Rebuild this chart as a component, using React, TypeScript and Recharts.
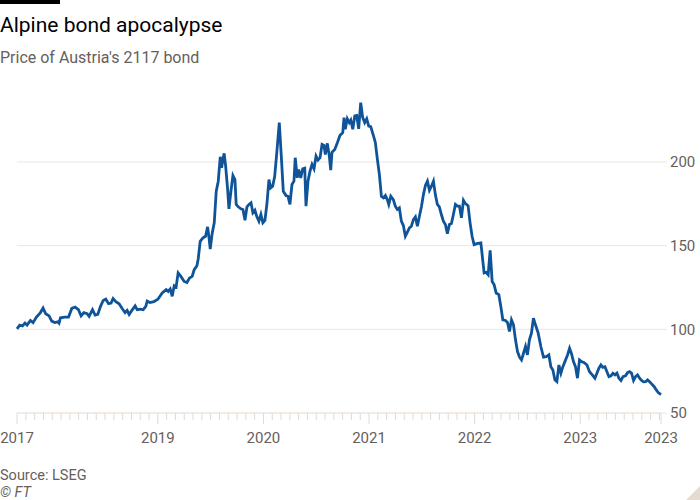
import React from "react";
import { LineChart, Line, XAxis, YAxis, ReferenceLine } from "recharts";

// weekly-ish readings, date as fractional year
const dates = [
  2017.666, 2017.692, 2017.718, 2017.742, 2017.761, 2017.793, 2017.818, 2017.85, 2017.888, 2017.913,
  2017.938, 2017.97, 2017.995, 2018.024, 2018.052, 2018.064, 2018.078, 2018.118, 2018.154, 2018.185,
  2018.216, 2018.248, 2018.273, 2018.299, 2018.33, 2018.349, 2018.381, 2018.406, 2018.431, 2018.457,
  2018.482, 2018.507, 2018.533, 2018.557, 2018.576, 2018.602, 2018.633, 2018.665, 2018.689, 2018.709,
  2018.728, 2018.754, 2018.785, 2018.804, 2018.836, 2018.861, 2018.886, 2018.899, 2018.924, 2018.962,
  2019.0, 2019.041, 2019.079, 2019.098, 2019.117, 2019.136, 2019.155, 2019.173, 2019.192, 2019.218,
  2019.249, 2019.275, 2019.3, 2019.325, 2019.344, 2019.37, 2019.382, 2019.401, 2019.427, 2019.452,
  2019.471, 2019.483, 2019.496, 2019.515, 2019.534, 2019.553, 2019.572, 2019.591, 2019.604, 2019.616,
  2019.628, 2019.642, 2019.661, 2019.673, 2019.692, 2019.711, 2019.73, 2019.742, 2019.761, 2019.787,
  2019.806, 2019.825, 2019.844, 2019.863, 2019.882, 2019.9, 2019.919, 2019.938, 2019.957, 2019.976,
  2019.995, 2020.014, 2020.033, 2020.052, 2020.068, 2020.087, 2020.106, 2020.125, 2020.15, 2020.169,
  2020.188, 2020.213, 2020.232, 2020.251, 2020.27, 2020.289, 2020.301, 2020.32, 2020.334, 2020.353,
  2020.372, 2020.391, 2020.403, 2020.422, 2020.441, 2020.46, 2020.479, 2020.498, 2020.517, 2020.536,
  2020.555, 2020.573, 2020.586, 2020.605, 2020.624, 2020.637, 2020.649, 2020.675, 2020.7, 2020.725,
  2020.751, 2020.763, 2020.775, 2020.794, 2020.813, 2020.827, 2020.846, 2020.865, 2020.883, 2020.902,
  2020.921, 2020.94, 2020.959, 2020.978, 2020.997, 2021.016, 2021.047, 2021.06, 2021.079, 2021.098,
  2021.117, 2021.136, 2021.155, 2021.173, 2021.187, 2021.206, 2021.23, 2021.249, 2021.268, 2021.287,
  2021.306, 2021.325, 2021.344, 2021.363, 2021.382, 2021.401, 2021.42, 2021.439, 2021.458, 2021.477,
  2021.496, 2021.515, 2021.534, 2021.553, 2021.572, 2021.591, 2021.61, 2021.628, 2021.647, 2021.666,
  2021.685, 2021.704, 2021.723, 2021.742, 2021.761, 2021.78, 2021.799, 2021.818, 2021.837, 2021.856,
  2021.875, 2021.894, 2021.913, 2021.938, 2021.957, 2021.976, 2021.995, 2022.021, 2022.059, 2022.09,
  2022.109, 2022.128, 2022.147, 2022.166, 2022.185, 2022.204, 2022.229, 2022.248, 2022.267, 2022.292,
  2022.311, 2022.33, 2022.349, 2022.368, 2022.387, 2022.406, 2022.425, 2022.444, 2022.463, 2022.482,
  2022.5, 2022.519, 2022.538, 2022.557, 2022.576, 2022.602, 2022.627, 2022.652, 2022.678, 2022.703,
  2022.722, 2022.741, 2022.76, 2022.779, 2022.798, 2022.817, 2022.836, 2022.855, 2022.88, 2022.899,
  2022.918, 2022.936, 2022.955, 2022.974, 2022.993, 2023.012, 2023.038, 2023.064, 2023.088, 2023.114,
  2023.139, 2023.158, 2023.177, 2023.196, 2023.215, 2023.234, 2023.253, 2023.272, 2023.291, 2023.31,
  2023.329, 2023.348, 2023.367, 2023.386, 2023.405, 2023.429, 2023.448, 2023.467, 2023.486, 2023.505,
  2023.524, 2023.543, 2023.562, 2023.581, 2023.6, 2023.619, 2023.638, 2023.657, 2023.676, 2023.701,
  2023.72, 2023.739, 2023.765,
];

const prices = [
  100.3, 102.5, 102, 103.7, 102.5, 105.3, 104, 107.3, 110, 112.7,
  109.3, 108, 104.9, 104, 104.5, 103.7, 106.9, 107.3, 107.3, 112.5,
  113.3, 111.7, 108, 110, 109.3, 107.7, 111.7, 108.5, 108.9, 113.7,
  117.2, 118, 115.3, 115.7, 118.4, 116.5, 115.3, 112.1, 110, 111.3,
  108.9, 111.3, 114, 111.7, 112.1, 111.7, 113.7, 116.9, 116, 116.5,
  118, 121.7, 123.7, 122.6, 124.1, 119.7, 126, 125.3, 133.7, 131.6,
  128.6, 128, 130.7, 131.6, 135.6, 138, 142, 152.6, 154.6, 155.6,
  161.2, 155.6, 148, 157.6, 163.6, 182.5, 188.5, 203.1, 196.5, 201.5,
  205.1, 197.5, 183.5, 172, 182.5, 191.9, 189.5, 174.6, 173.2, 172,
  171.6, 165.2, 173.2, 174.6, 175.6, 169.6, 171.1, 167.2, 164.6, 168.6,
  163.6, 165, 175, 189.5, 184.5, 185.5, 191.1, 204.5, 223.5, 203.5,
  182.5, 179.9, 179.5, 174.6, 186.5, 188.5, 202.5, 190.5, 195.5, 190.5,
  195.9, 196.3, 173.6, 188.5, 194.5, 198.5, 195.9, 203.5, 201.1, 202.5,
  210.5, 209.9, 204.5, 211.1, 203.5, 195.1, 205.7, 207.5, 211.5, 215.9,
  217.5, 226.5, 219.5, 225.8, 223.5, 225, 219.5, 227.5, 227.8, 219.8,
  235.4, 226.5, 223.5, 225.8, 221.4, 221.1, 214.5, 211.5, 201.5, 192.5,
  179.5, 178.6, 179.9, 177.5, 174.6, 179.5, 177.5, 173.6, 171.6, 172.6,
  164.6, 162, 155.6, 158, 160.6, 161.6, 165.6, 167.2, 161.6, 167.5,
  173.2, 180.5, 185.9, 188.5, 183.1, 185.5, 188.5, 180.5, 174.6, 173.2,
  168.6, 164.6, 162.6, 157.2, 162.6, 163.2, 168.6, 174.6, 173.6, 173.6,
  166.6, 177.1, 175.1, 173.9, 163.6, 155.6, 150.6, 151.2, 151.6, 133.7,
  134, 132.6, 147.2, 128.6, 126.6, 121.7, 120.7, 113.7, 105.7, 105.3,
  104.1, 98.7, 105.7, 102.7, 93.7, 86.7, 83.4, 81.7, 85.7, 89.7,
  84.7, 93.7, 97.7, 106.7, 102.7, 97.7, 89.7, 83.4, 83.7, 84.7,
  77.7, 75.7, 69.8, 68.7, 78.7, 73.8, 77.7, 80.7, 84.7, 88.7,
  85.3, 80.7, 77.7, 70.8, 81.7, 80.7, 80.1, 78.7, 74.7, 72.8,
  70.8, 73.8, 76.8, 78.7, 77.3, 77.7, 74.7, 71.7, 72.2, 73.8,
  72.8, 73.8, 70.8, 69.4, 71.7, 72.2, 74.1, 74.7, 73.8, 69.4,
  71.7, 72.8, 70.8, 69.4, 68.6, 68.7, 69.8, 68.7, 67.4, 65.7,
  63.8, 62.2, 61,
];

const yTicks = [50, 100, 150, 200];
const gridValues = [100, 150, 200];
const majorTicks = [2017.666, 2019, 2020, 2021, 2022, 2023, 2023.765];
const majorLabels = ["2017", "2019", "2020", "2021", "2022", "2023", "2023"];

const data = dates.map((t, i) => ({ t, price: prices[i] }));

// monthly minor ticks between the first and last date
const minorTicks: number[] = [];
for (let m = 8; 2017 + m / 12 <= majorTicks[majorTicks.length - 1]; m++) {
  const v = 2017 + m / 12;
  if (!majorTicks.some((t) => Math.abs(t - v) < 0.01)) minorTicks.push(v);
}
const xTicks = [...majorTicks, ...minorTicks].sort((a, b) => a - b);

const FONT = "Roboto, 'Noto Sans', sans-serif";
const GREY = "#66605c";
const AXIS = "#e3d9cf";
const GRID = "#ece6e1";

function XTick(props: any) {
  const { x, y, payload } = props;
  const i = majorTicks.findIndex((t) => Math.abs(t - payload.value) < 1e-6);
  const major = i >= 0;
  return (
    <g>
      <line x1={x} x2={x} y1={y} y2={y + (major ? 11 : 7)} stroke={AXIS} strokeWidth={1} />
      {major && (
        <text x={x} y={y + 30} textAnchor="middle" fill={GREY} fontSize={15} fontFamily={FONT}>
          {majorLabels[i]}
        </text>
      )}
    </g>
  );
}

export default function App() {
  return (
    <div style={{ position: "absolute", left: 0, top: 0, width: 700, height: 500, background: "#fff" }}>
      <svg width={700} height={500} style={{ position: "absolute", left: 0, top: 0 }}>
        <rect x={0} y={0} width={60} height={4} fill="#000" />
        <text x={0} y={32} fontSize={21} fontFamily={FONT} fill="#000">
          Alpine bond apocalypse
        </text>
        <text x={0} y={63} fontSize={16} fontFamily={FONT} fill={GREY}>
          Price of Austria's 2117 bond
        </text>
        <text x={0} y={480} fontSize={14.5} fontFamily={FONT} fill={GREY}>
          Source: LSEG
        </text>
        <text x={0} y={497} fontSize={14.5} fontFamily={FONT} fill={GREY} fontStyle="italic">
          © FT
        </text>
        <polygon points="686,500 700,486 700,500" fill="#e6dbd0" />
      </svg>
      <div style={{ position: "absolute", left: 0, top: 0 }}>
        <LineChart
          width={700}
          height={500}
          data={data}
          margin={{ top: 95, right: 0, bottom: 57, left: 17 }}
        >
          {gridValues.map((v) => (
            <ReferenceLine key={v} y={v} stroke={GRID} strokeWidth={1} />
          ))}
          <XAxis
            dataKey="t"
            type="number"
            domain={[majorTicks[0], majorTicks[majorTicks.length - 1]]}
            ticks={xTicks}
            interval={0}
            tick={<XTick />}
            tickLine={false}
            tickSize={0}
            tickMargin={0}
            axisLine={{ stroke: AXIS }}
            height={30}
          />
          <YAxis
            orientation="right"
            domain={[50, 240]}
            ticks={yTicks}
            width={39}
            axisLine={false}
            tickLine={{ stroke: GRID }}
            tickSize={6}
            tickMargin={3}
            tick={{ fill: GREY, fontSize: 15, fontFamily: FONT, textAnchor: "start" }}
          />
          <Line
            dataKey="price"
            type="linear"
            stroke="#0f5499"
            strokeWidth={2.8}
            dot={false}
            isAnimationActive={false}
          />
        </LineChart>
      </div>
    </div>
  );
}
